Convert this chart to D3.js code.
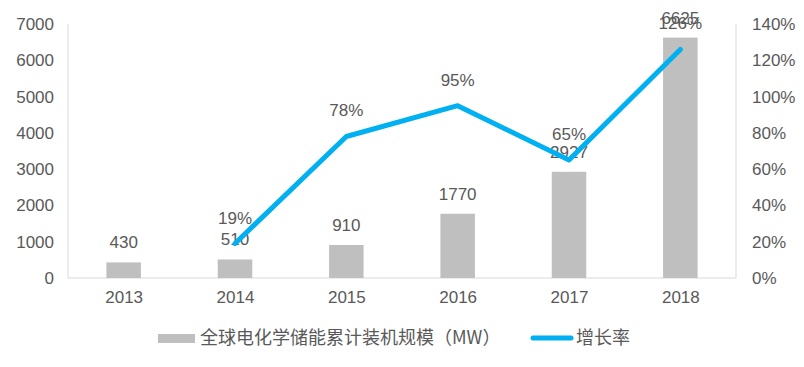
<!DOCTYPE html>
<html>
<head>
<meta charset="utf-8">
<script src="https://cdn.jsdelivr.net/npm/d3@7"></script>
<style>
  body { margin: 0; background: #fff; }
  text { font-family: "Liberation Sans", Arial, sans-serif; fill: #595959; }
  .cjk { font-family: "Noto Sans CJK SC", sans-serif; }
</style>
</head>
<body>
<svg width="804" height="367"></svg>
<script>
var years = ["2013", "2014", "2015", "2016", "2017", "2018"];
var capacity = [430, 510, 910, 1770, 2927, 6625];
var growth = [null, 19, 78, 95, 65, 126];
var leftTicks = [0, 1000, 2000, 3000, 4000, 5000, 6000, 7000];
var rightTicks = [0, 20, 40, 60, 80, 100, 120, 140];

var svg = d3.select("svg");
var plotL = 68, plotR = 736, plotT = 24, plotB = 278;

var x = d3.scaleBand().domain(years).range([plotL, plotR]).paddingInner(0.69).paddingOuter(0.345);
var xc = d3.scalePoint().domain(years).range([plotL, plotR]).padding(0.5);
var y = d3.scaleLinear().domain([0, 7000]).range([plotB, plotT]);
var y2 = d3.scaleLinear().domain([0, 140]).range([plotB, plotT]);

// axes lines
var g = svg.append("g");
g.append("path").attr("d", `M${plotL},${plotT}V${plotB}H${plotR}V${plotT}`)
  .attr("fill", "none").attr("stroke", "#d9d9d9").attr("stroke-width", 1);

g.append("g").attr("transform", `translate(${plotL - 14},0)`)
  .call(d3.axisLeft(y).tickValues(leftTicks).tickSize(0).tickPadding(0).tickFormat(d3.format("d")))
  .call(a => a.select(".domain").remove())
  .selectAll("text").style("font-size", "17px").attr("fill", "#595959");

g.append("g").attr("transform", `translate(${plotR + 16},0)`)
  .call(d3.axisRight(y2).tickValues(rightTicks).tickSize(0).tickPadding(0).tickFormat(d => d + "%"))
  .call(a => a.select(".domain").remove())
  .selectAll("text").style("font-size", "17px").attr("fill", "#595959");

g.append("g").attr("transform", `translate(0,${plotB + 12})`)
  .call(d3.axisBottom(xc).tickSize(0).tickPadding(0))
  .call(a => a.select(".domain").remove())
  .selectAll("text").style("font-size", "17px").attr("fill", "#595959").attr("dy", "0.75em");

// bars
var data = years.map((yr, i) => ({ year: yr, cap: capacity[i], gr: growth[i] }));
g.selectAll(".bar").data(data).enter().append("rect")
  .attr("class", "bar")
  .attr("x", d => x(d.year))
  .attr("y", d => y(d.cap))
  .attr("width", x.bandwidth())
  .attr("height", d => plotB - y(d.cap))
  .attr("fill", "#bfbfbf");

g.selectAll(".barlabel").data(data).enter().append("text")
  .attr("x", d => xc(d.year))
  .attr("y", d => y(d.cap) - 14)
  .attr("text-anchor", "middle")
  .style("font-size", "17px")
  .text(d => d.cap);

// line
var lineData = data.filter(d => d.gr !== null);
g.append("path").datum(lineData)
  .attr("fill", "none").attr("stroke", "#00b0f0").attr("stroke-width", 5)
  .attr("stroke-linecap", "round").attr("stroke-linejoin", "round")
  .attr("d", d3.line().x(d => xc(d.year)).y(d => y2(d.gr)));

g.selectAll(".grlabel").data(lineData).enter().append("text")
  .attr("x", d => xc(d.year))
  .attr("y", d => y2(d.gr) - 20)
  .attr("text-anchor", "middle")
  .style("font-size", "17px")
  .text(d => d.gr + "%");

// legend
var lg = svg.append("g").attr("transform", "translate(0,338)");
lg.append("rect").attr("x", 158).attr("y", -4).attr("width", 37).attr("height", 9).attr("fill", "#bfbfbf");
lg.append("text").attr("class", "cjk").attr("x", 200).attr("y", 0).attr("dy", "0.35em")
  .style("font-size", "18px").text("全球电化学储能累计装机规模（MW）");
lg.append("line").attr("x1", 533).attr("x2", 571).attr("y1", 0).attr("y2", 0)
  .attr("stroke", "#00b0f0").attr("stroke-width", 5).attr("stroke-linecap", "round");
lg.append("text").attr("class", "cjk").attr("x", 576).attr("y", 0).attr("dy", "0.35em")
  .style("font-size", "18px").text("增长率");
</script>
</body>
</html>
